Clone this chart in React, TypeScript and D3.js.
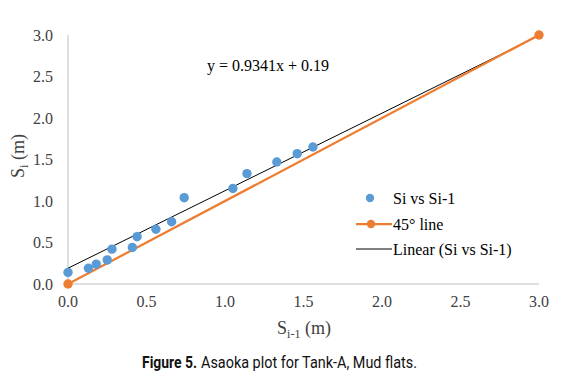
import { useEffect, useRef } from 'react';
import * as d3 from 'd3';

// Asaoka settlement pairs (m)
const siPrev = [0.0, 0.13, 0.18, 0.25, 0.28, 0.41, 0.44, 0.56, 0.66, 0.74, 1.05, 1.14, 1.33, 1.46, 1.56];
const si = [0.14, 0.19, 0.24, 0.29, 0.42, 0.44, 0.57, 0.66, 0.75, 1.04, 1.15, 1.33, 1.47, 1.57, 1.65];
const lineX = [0, 3];
const fitSlope = 0.9341;
const fitIntercept = 0.19;
const ticks = [0, 0.5, 1.0, 1.5, 2.0, 2.5, 3.0];

const BLUE = '#5B9BD5';
const ORANGE = '#ED7D31';
const SERIF = '"Liberation Serif", "Times New Roman", serif';
const CAPFONT = '"Liberation Sans Narrow", Roboto, sans-serif';

function App() {
  const svgRef = useRef<SVGSVGElement>(null);
  const width = 575;
  const height = 392;

  useEffect(() => {
    const svg = d3.select(svgRef.current);
    svg.selectAll('*').remove();

    const x = d3.scaleLinear().domain([0, 3]).range([68, 539]);
    const y = d3.scaleLinear().domain([0, 3]).range([284, 35]);

    // axis lines
    svg.append('line')
      .attr('x1', x(0)).attr('x2', x(3))
      .attr('y1', y(0)).attr('y2', y(0))
      .attr('stroke', '#bfbfbf').attr('stroke-width', 1);
    svg.append('line')
      .attr('x1', x(0)).attr('x2', x(0))
      .attr('y1', y(0)).attr('y2', y(3))
      .attr('stroke', '#bfbfbf').attr('stroke-width', 1);

    // tick labels
    svg.append('g').selectAll('text')
      .data(ticks)
      .join('text')
      .attr('x', 53)
      .attr('y', d => y(d))
      .attr('dy', '0.35em')
      .attr('text-anchor', 'end')
      .attr('font-family', SERIF)
      .attr('font-size', 16)
      .attr('fill', '#404040')
      .text(d => d.toFixed(1));

    svg.append('g').selectAll('text')
      .data(ticks)
      .join('text')
      .attr('x', d => x(d))
      .attr('y', 307)
      .attr('text-anchor', 'middle')
      .attr('font-family', SERIF)
      .attr('font-size', 16)
      .attr('fill', '#404040')
      .text(d => d.toFixed(1));

    // linear fit
    const line = d3.line<number>()
      .x(d => x(d))
      .y(d => y(fitSlope * d + fitIntercept));
    svg.append('path')
      .attr('d', line(lineX))
      .attr('fill', 'none')
      .attr('stroke', '#000')
      .attr('stroke-width', 1);

    // 45 degree line
    const diag = d3.line<number>().x(d => x(d)).y(d => y(d));
    svg.append('path')
      .attr('d', diag(lineX))
      .attr('fill', 'none')
      .attr('stroke', ORANGE)
      .attr('stroke-width', 2.25);
    svg.append('g').selectAll('circle')
      .data(lineX)
      .join('circle')
      .attr('cx', d => x(d))
      .attr('cy', d => y(d))
      .attr('r', 4.7)
      .attr('fill', ORANGE);

    // data points
    svg.append('g').selectAll('circle')
      .data(si)
      .join('circle')
      .attr('cx', (_, i) => x(siPrev[i]))
      .attr('cy', d => y(d))
      .attr('r', 4.7)
      .attr('fill', BLUE);

    // equation
    svg.append('text')
      .attr('x', 207)
      .attr('y', 71)
      .attr('font-family', SERIF)
      .attr('font-size', 16)
      .attr('fill', '#000')
      .text('y = 0.9341x + 0.19');

    // axis titles
    const yt = svg.append('text')
      .attr('transform', 'translate(24,156) rotate(-90)')
      .attr('text-anchor', 'middle')
      .attr('font-family', SERIF)
      .attr('font-size', 18)
      .attr('fill', '#404040');
    yt.append('tspan').text('S');
    yt.append('tspan').attr('font-size', 12).attr('dy', 4).text('i');
    yt.append('tspan').attr('dy', -4).text(' (m)');

    const xt = svg.append('text')
      .attr('x', 304)
      .attr('y', 334)
      .attr('text-anchor', 'middle')
      .attr('font-family', SERIF)
      .attr('font-size', 18)
      .attr('fill', '#404040');
    xt.append('tspan').text('S');
    xt.append('tspan').attr('font-size', 12).attr('dy', 4).text('i-1');
    xt.append('tspan').attr('dy', -4).text(' (m)');

    // legend
    const lg = svg.append('g').attr('font-family', SERIF).attr('font-size', 16).attr('fill', '#000');
    lg.append('circle').attr('cx', 370).attr('cy', 198).attr('r', 4.2).attr('fill', BLUE);
    lg.append('text').attr('x', 393).attr('y', 198).attr('dy', '0.35em').text('Si vs Si-1');
    lg.append('line').attr('x1', 356).attr('x2', 392).attr('y1', 224).attr('y2', 224)
      .attr('stroke', ORANGE).attr('stroke-width', 2.25);
    lg.append('circle').attr('cx', 371).attr('cy', 224).attr('r', 4.2).attr('fill', ORANGE);
    lg.append('text').attr('x', 393).attr('y', 224).attr('dy', '0.35em').text('45° line');
    lg.append('line').attr('x1', 356).attr('x2', 392).attr('y1', 249).attr('y2', 249)
      .attr('stroke', '#000').attr('stroke-width', 1);
    lg.append('text').attr('x', 393).attr('y', 249).attr('dy', '0.35em').text('Linear (Si vs Si-1)');

    // caption
    svg.append('text')
      .attr('x', 142)
      .attr('y', 368)
      .attr('font-family', CAPFONT)
      .attr('font-size', 16)
      .attr('font-weight', 'bold')
      .attr('fill', '#111')
      .attr('textLength', 55)
      .attr('lengthAdjust', 'spacingAndGlyphs')
      .text('Figure 5.');
    svg.append('text')
      .attr('x', 201)
      .attr('y', 368)
      .attr('font-family', CAPFONT)
      .attr('font-size', 16)
      .attr('fill', '#111')
      .attr('textLength', 216)
      .attr('lengthAdjust', 'spacingAndGlyphs')
      .text('Asaoka plot for Tank-A, Mud flats.');
  }, []);

  return (
    <svg
      ref={svgRef}
      width={width}
      height={height}
      style={{ position: 'absolute', left: 0, top: 0, background: '#fff' }}
    />
  );
}

export default App;
